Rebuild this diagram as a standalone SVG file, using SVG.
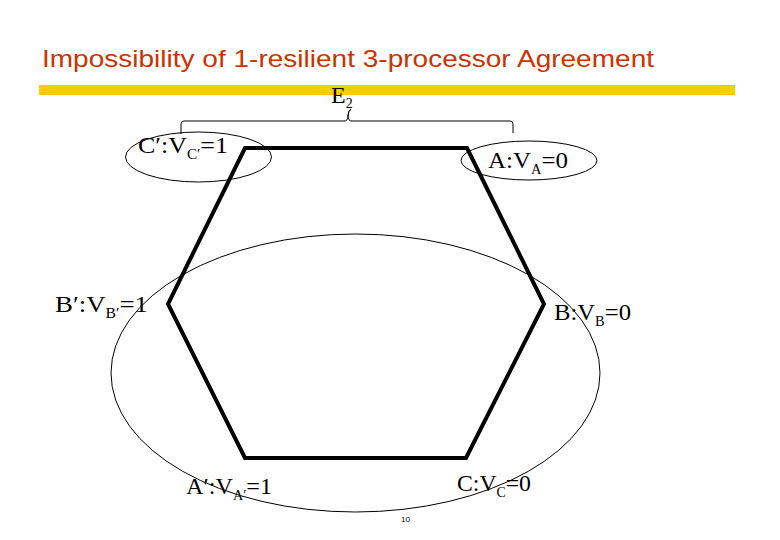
<svg xmlns="http://www.w3.org/2000/svg" width="780" height="540" viewBox="0 0 780 540">
<style>
.lbl{font-family:"Liberation Serif","Times New Roman",serif;font-size:24px;fill:#000}
.sub{font-size:14px}
.thin{fill:none;stroke:#000;stroke-width:1}
.hex{fill:none;stroke:#000;stroke-width:4;stroke-linejoin:miter}
</style>
<rect width="780" height="540" fill="#fff"/>
<text x="42" y="67" font-family="Liberation Sans, Arial, sans-serif" font-size="24" fill="#CC3300" textLength="612" lengthAdjust="spacingAndGlyphs">Impossibility of 1-resilient 3-processor Agreement</text>
<rect x="39" y="85" width="696" height="10" fill="#FFCC00"/>
<g id="connectors">
<polygon class="hex" points="245,148 467,148 544,304 466,458 245,458 168,304"/>
<ellipse class="thin" cx="355.5" cy="373" rx="244.5" ry="139"/>
<path class="thin" d="M181,134 V124 Q181,121 184,121 H344 Q348,121 348,116 Q348,111 351,109 Q348,111 348,116 Q348,121 352,121 H510 Q513,121 513,124 V133"/>
</g>
<g id="E2"><text class="lbl" x="331" y="103" font-size="22">E<tspan class="sub" dy="5">2</tspan></text></g>
<g id="Cp">
<ellipse class="thin" cx="198.5" cy="157" rx="73" ry="25"/>
<text class="lbl" x="138" y="153" textLength="90" lengthAdjust="spacingAndGlyphs">C′:V<tspan class="sub" dy="6">C′</tspan><tspan dy="-6">=1</tspan></text>
</g>
<g id="A">
<ellipse class="thin" cx="529" cy="160.5" rx="68" ry="19.5"/>
<text class="lbl" x="488" y="168" textLength="80" lengthAdjust="spacingAndGlyphs">A:V<tspan class="sub" dy="6">A</tspan><tspan dy="-6">=0</tspan></text>
</g>
<g id="Bp"><text class="lbl" x="55" y="312" textLength="93" lengthAdjust="spacingAndGlyphs">B′:V<tspan class="sub" dy="6">B′</tspan><tspan dy="-6">=1</tspan></text></g>
<g id="B"><text class="lbl" x="554" y="320" textLength="77" lengthAdjust="spacingAndGlyphs">B:V<tspan class="sub" dy="6">B</tspan><tspan dy="-6">=0</tspan></text></g>
<g id="Ap"><text class="lbl" x="186" y="494" textLength="86" lengthAdjust="spacingAndGlyphs">A′:V<tspan class="sub" dy="6">A′</tspan><tspan dy="-6">=1</tspan></text></g>
<g id="C"><text class="lbl" x="457" y="491" textLength="74" lengthAdjust="spacingAndGlyphs">C:V<tspan class="sub" dy="6">C</tspan><tspan dy="-6">=0</tspan></text></g>
<text x="401" y="522" font-family="Liberation Sans, Arial, sans-serif" font-size="8" fill="#000">10</text>
</svg>
